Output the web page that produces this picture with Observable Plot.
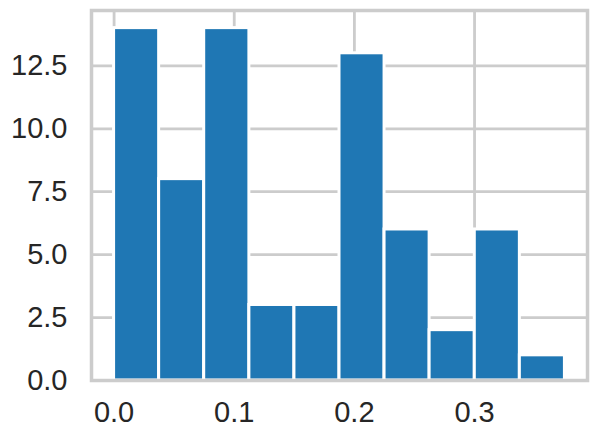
<!DOCTYPE html>
<html>
<head>
<meta charset="utf-8">
<script src="https://cdn.jsdelivr.net/npm/d3@7"></script>
<script src="https://cdn.jsdelivr.net/npm/@observablehq/plot@0.6"></script>
<style>
  html, body { margin: 0; padding: 0; background: #ffffff; }
  #chart svg { display: block; }
</style>
</head>
<body>
<div id="chart"></div>
<script>
// Bin edges of the histogram
const binEdges = [0.0, 0.0375, 0.0750, 0.1126, 0.1501, 0.1876, 0.2251, 0.2626, 0.3002, 0.3377, 0.3752];
// Counts per bin
const counts = [14, 8, 14, 3, 3, 13, 6, 2, 6, 1];
// Tick values
const xTicks = [0.0, 0.1, 0.2, 0.3];
const yTicks = [0.0, 2.5, 5.0, 7.5, 10.0, 12.5];

const bins = counts.map((c, i) => ({x1: binEdges[i], x2: binEdges[i + 1], count: c}));

const grid = "#cccccc";
const chart = Plot.plot({
  width: 597,
  height: 440,
  marginLeft: 91,
  marginRight: 10,
  marginTop: 10,
  marginBottom: 60,
  style: {
    fontFamily: "'Liberation Sans', Arial, sans-serif",
    fontSize: "29px",
    color: "#262626",
    background: "#ffffff"
  },
  x: {domain: [-0.0188, 0.394], ticks: xTicks, tickFormat: d3.format(".1f")},
  y: {domain: [0, 14.7], ticks: yTicks, tickFormat: d3.format(".1f")},
  marks: [
    Plot.gridX(xTicks, {stroke: grid, strokeOpacity: 1, strokeWidth: 2.8}),
    Plot.gridY(yTicks, {stroke: grid, strokeOpacity: 1, strokeWidth: 2.8}),
    Plot.rectY(bins, {x1: "x1", x2: "x2", y: "count", fill: "#1f77b4", stroke: "#ffffff", strokeWidth: 3}),
    Plot.frame({stroke: grid, strokeWidth: 3.5}),
    Plot.axisX(xTicks, {tickSize: 0, tickPadding: 21, label: null, tickFormat: d3.format(".1f"), fill: "#262626"}),
    Plot.axisY(yTicks, {tickSize: 0, tickPadding: 24, label: null, tickFormat: d3.format(".1f"), fill: "#262626"})
  ]
});
document.getElementById("chart").appendChild(chart);
</script>
</body>
</html>
